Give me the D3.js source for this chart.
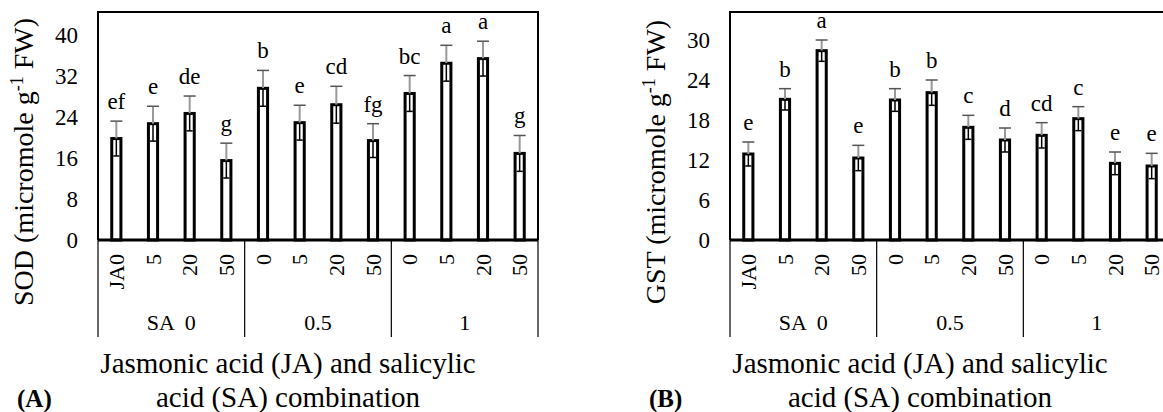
<!DOCTYPE html>
<html>
<head>
<meta charset="utf-8">
<script src="https://cdn.jsdelivr.net/npm/d3@7"></script>
<style>
  body { margin: 0; background: #fff; }
  svg { font-family: "Liberation Serif", "Times New Roman", serif; }
</style>
</head>
<body>
<script>
// categories
var jaLabels = ["JA0", "5", "20", "50", "0", "5", "20", "50", "0", "5", "20", "50"];
var saGroups = ["SA  0", "0.5", "1"];

// (A) SOD
var sodMean = [19.8, 22.7, 24.7, 15.5, 29.6, 22.9, 26.4, 19.4, 28.6, 34.5, 35.4, 16.9];
var sodErr = [3.4, 3.4, 3.4, 3.4, 3.5, 3.4, 3.6, 3.3, 3.5, 3.5, 3.4, 3.5];
var sodLetters = ["ef", "e", "de", "g", "b", "e", "cd", "fg", "bc", "a", "a", "g"];
var sodTicks = [0, 8, 16, 24, 32, 40];

// (B) GST
var gstMean = [12.9, 21.1, 28.4, 12.3, 21.0, 22.1, 16.9, 15.0, 15.7, 18.2, 11.5, 11.1];
var gstErr = [1.8, 1.6, 1.6, 1.9, 1.7, 1.9, 1.8, 1.8, 1.9, 1.8, 1.7, 1.9];
var gstLetters = ["e", "b", "a", "e", "b", "b", "c", "d", "cd", "c", "e", "e"];
var gstTicks = [0, 6, 12, 18, 24, 30];

var svg = d3.select("body").append("svg")
    .attr("width", 1163)
    .attr("height", 412);

var plotTop = 12, H = 228, W = 440;

function drawPanel(cfg) {
    var g = svg.append("g")
        .attr("transform", "translate(" + cfg.left + "," + plotTop + ")");

    var x = d3.scaleBand()
        .domain(d3.range(jaLabels.length))
        .range([0, W])
        .paddingInner(0.75)
        .paddingOuter(0.375);

    var y = d3.scaleLinear()
        .domain([0, cfg.max])
        .range([H, 0]);

    // y axis labels, no tick marks
    var ax = g.append("g")
        .call(d3.axisLeft(y).tickValues(cfg.ticks).tickSize(0).tickPadding(20));
    ax.select(".domain").remove();
    ax.attr("font-family", null);
    ax.selectAll("text")
        .attr("font-size", 23)
        .attr("fill", "#000");

    // plot frame (top, left, right)
    g.append("path")
        .attr("d", "M0," + H + "V0H" + W + "V" + H)
        .attr("fill", "none")
        .attr("stroke", "#000")
        .attr("stroke-width", 2);

    // bars
    var bar = g.selectAll(".bar")
        .data(cfg.mean)
        .enter().append("g")
        .attr("class", "bar");

    bar.append("rect")
        .attr("x", function(d, i) { return x(i); })
        .attr("y", function(d) { return y(d); })
        .attr("width", x.bandwidth())
        .attr("height", function(d) { return H - y(d); })
        .attr("fill", "#fff")
        .attr("stroke", "#000")
        .attr("stroke-width", 3);

    // error bars: lower half inside the bar is dark, upper half grey
    bar.append("line")
        .attr("x1", function(d, i) { return x(i) + x.bandwidth() / 2; })
        .attr("x2", function(d, i) { return x(i) + x.bandwidth() / 2; })
        .attr("y1", function(d) { return y(d); })
        .attr("y2", function(d, i) { return y(d + cfg.err[i]); })
        .attr("stroke", "#999")
        .attr("stroke-width", 2);
    bar.append("line")
        .attr("x1", function(d, i) { return x(i) + x.bandwidth() / 2; })
        .attr("x2", function(d, i) { return x(i) + x.bandwidth() / 2; })
        .attr("y1", function(d) { return y(d); })
        .attr("y2", function(d, i) { return y(d - cfg.err[i]); })
        .attr("stroke", "#000")
        .attr("stroke-width", 1.5);
    bar.append("line")
        .attr("x1", function(d, i) { return x(i) + x.bandwidth() / 2 - 6; })
        .attr("x2", function(d, i) { return x(i) + x.bandwidth() / 2 + 6; })
        .attr("y1", function(d, i) { return y(d + cfg.err[i]); })
        .attr("y2", function(d, i) { return y(d + cfg.err[i]); })
        .attr("stroke", "#555")
        .attr("stroke-width", 1.5);
    bar.append("line")
        .attr("x1", function(d, i) { return x(i) + 1.5; })
        .attr("x2", function(d, i) { return x(i) + x.bandwidth() - 1.5; })
        .attr("y1", function(d, i) { return y(d - cfg.err[i]); })
        .attr("y2", function(d, i) { return y(d - cfg.err[i]); })
        .attr("stroke", "#000")
        .attr("stroke-width", 1.5);

    // significance letters
    bar.append("text")
        .attr("x", function(d, i) { return x(i) + x.bandwidth() / 2; })
        .attr("y", function(d, i) { return y(d + cfg.err[i]) - 12; })
        .attr("text-anchor", "middle")
        .attr("font-size", 23)
        .text(function(d, i) { return cfg.letters[i]; });

    // zero line
    g.append("line")
        .attr("x1", 0).attr("x2", W)
        .attr("y1", H).attr("y2", H)
        .attr("stroke", "#000")
        .attr("stroke-width", 3);

    // JA labels (rotated)
    g.selectAll(".ja")
        .data(jaLabels)
        .enter().append("text")
        .attr("class", "ja")
        .attr("transform", function(d, i) {
            return "translate(" + (x(i) + x.bandwidth() / 2) + "," + (H + 14) + ") rotate(-90)";
        })
        .attr("dy", "0.35em")
        .attr("text-anchor", "end")
        .attr("font-size", 22)
        .text(function(d) { return d; });

    // SA groups + separators
    var groupW = x.step() * 4;
    g.selectAll(".sep")
        .data(d3.range(saGroups.length + 1))
        .enter().append("line")
        .attr("x1", function(d) { return d * groupW; })
        .attr("x2", function(d) { return d * groupW; })
        .attr("y1", H)
        .attr("y2", H + 97)
        .attr("stroke", "#000")
        .attr("stroke-width", 1.2);

    g.selectAll(".sa")
        .data(saGroups)
        .enter().append("text")
        .attr("x", function(d, i) { return (i + 0.5) * groupW; })
        .attr("y", H + 90)
        .attr("text-anchor", "middle")
        .attr("font-size", 22)
        .style("white-space", "pre")
        .text(function(d) { return d; });

    // y title
    var yt = g.append("text")
        .attr("transform", "translate(-65," + (H / 2 + 36) + ") rotate(-90)")
        .attr("text-anchor", "middle")
        .attr("font-size", 28);
    yt.append("tspan").text(cfg.name + " (micromole g");
    yt.append("tspan").attr("font-size", 18).attr("dy", -10).text("-1");
    yt.append("tspan").attr("dy", 10).text(" FW)");

    // x title
    var cx = W / 2 - 30;
    g.append("text")
        .attr("x", cx).attr("y", 361)
        .attr("text-anchor", "middle")
        .attr("font-size", 29)
        .text("Jasmonic acid (JA) and salicylic");
    g.append("text")
        .attr("x", cx).attr("y", 395)
        .attr("text-anchor", "middle")
        .attr("font-size", 29)
        .text("acid (SA) combination");

    // panel tag
    g.append("text")
        .attr("x", -81).attr("y", 395)
        .attr("font-size", 25)
        .attr("font-weight", "bold")
        .text(cfg.tag);
}

drawPanel({ left: 98, max: 44.5, ticks: sodTicks, mean: sodMean, err: sodErr, letters: sodLetters, name: "SOD", tag: "(A)" });
drawPanel({ left: 730, max: 34.2, ticks: gstTicks, mean: gstMean, err: gstErr, letters: gstLetters, name: "GST", tag: "(B)" });
</script>
</body>
</html>
